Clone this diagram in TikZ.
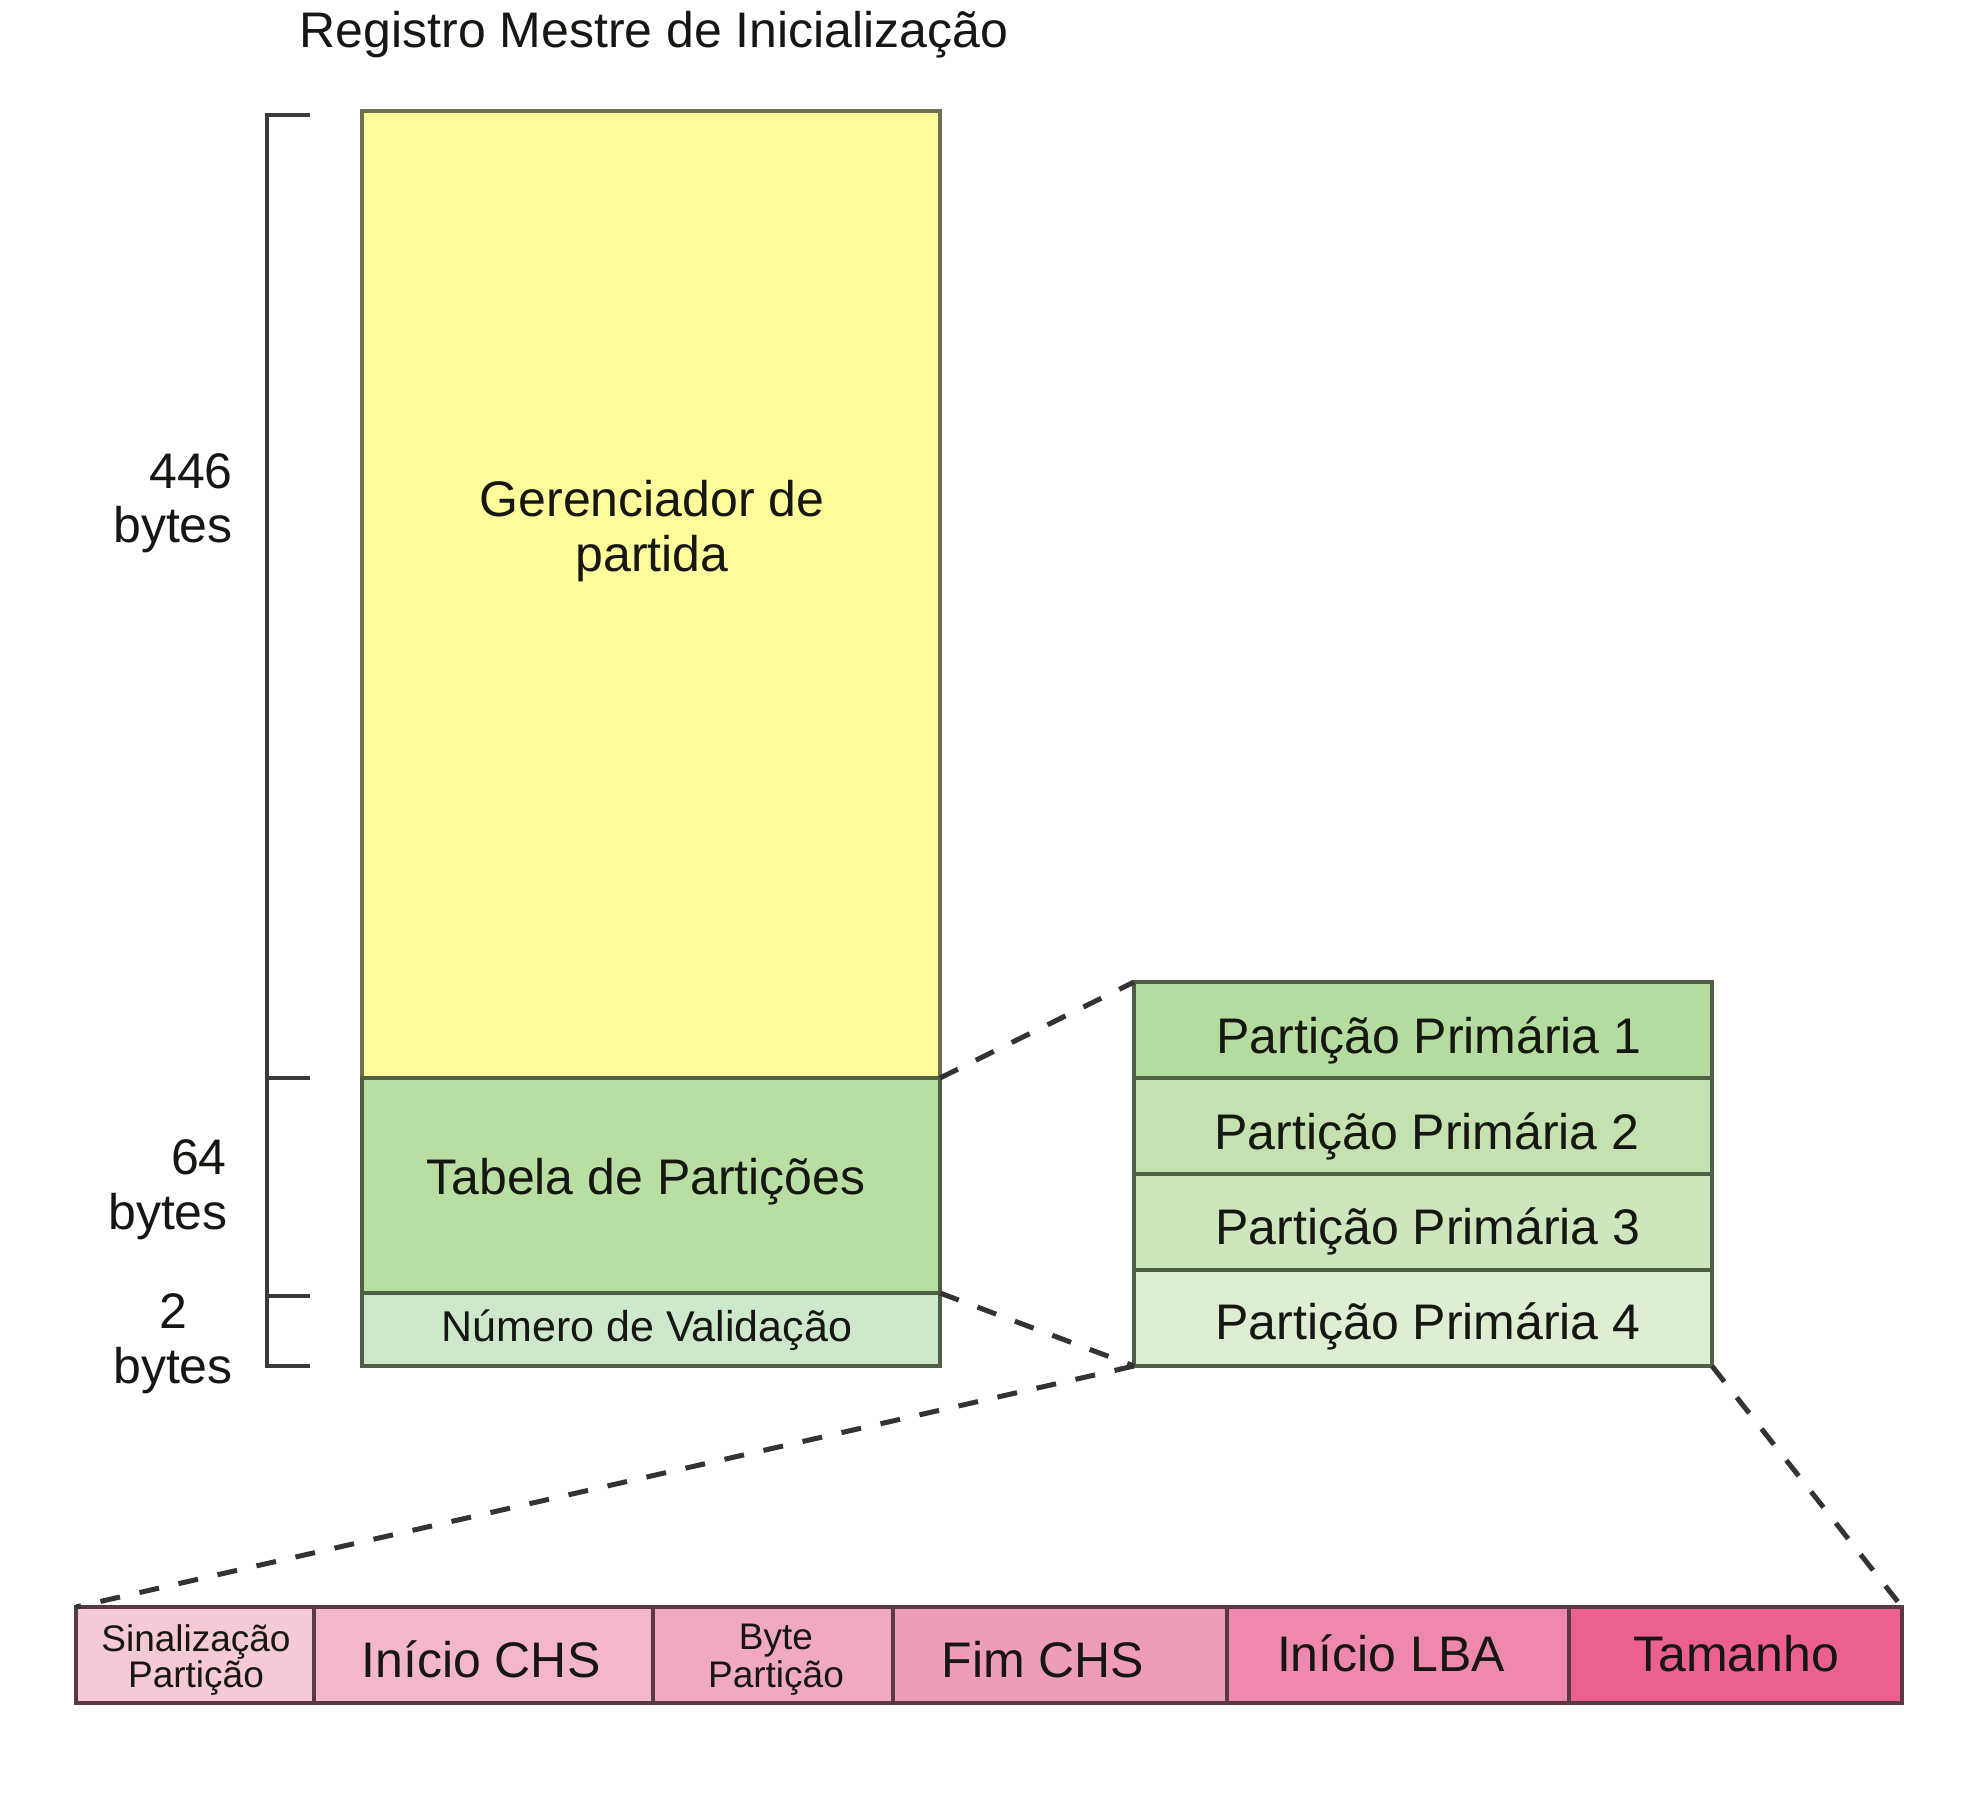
\documentclass[tikz,border=0pt]{standalone}
\usepackage{fontspec}
\setmainfont{Liberation Sans}
\definecolor{txt}{HTML}{161612}
\definecolor{yel}{HTML}{FDFB9A}
\definecolor{yelb}{HTML}{6E6E50}
\definecolor{tabc}{HTML}{B8DEA1}
\definecolor{numc}{HTML}{CEE8CC}
\definecolor{grnb}{HTML}{4F5F45}
\definecolor{pa}{HTML}{B4DC9E}
\definecolor{pb}{HTML}{C3E2AF}
\definecolor{pc}{HTML}{CEE6BD}
\definecolor{pd}{HTML}{DDEED3}
\definecolor{ka}{HTML}{F6C9D7}
\definecolor{kb}{HTML}{F4B6CB}
\definecolor{kc}{HTML}{F1A9C3}
\definecolor{kd}{HTML}{EF9BBA}
\definecolor{ke}{HTML}{EE88AE}
\definecolor{kf}{HTML}{EC6090}
\definecolor{pnkb}{HTML}{5A3A42}
\definecolor{brk}{HTML}{3A3A3A}
\tikzset{
  box/.style={rectangle, inner sep=0pt, outer sep=0pt, anchor=north west, line width=4pt},
  big/.style={font=\fontsize{50}{58}\selectfont, inner sep=0pt, anchor=base, text=txt},
  mid/.style={font=\fontsize{43}{50}\selectfont, inner sep=0pt, anchor=base, text=txt},
  small/.style={font=\fontsize{37}{42}\selectfont, inner sep=0pt, anchor=base, text=txt},
  zoomline/.style={line width=5pt, dash pattern=on 20pt off 20pt, draw=black!80},
  brace/.style={line width=3.5pt, draw=brk},
}
\begin{document}
\begin{tikzpicture}[x=1pt,y=-1pt]
\useasboundingbox[fill=white] (0,0) rectangle (1984,1804);
% title
\node[big] (title) at (654,47) {Registro Mestre de Inicialização};
% MBR column
\node[box, fill=yel, draw=yelb, minimum width=578pt, minimum height=967pt] (gp) at (362,111) {};
\node[box, fill=tabc, draw=grnb, minimum width=578pt, minimum height=215pt] (tab) at (362,1078) {};
\node[box, fill=numc, draw=grnb, minimum width=578pt, minimum height=73pt] (num) at (362,1293) {};
\node[big] (gpa) at (652,516) {Gerenciador de};
\node[big] (gpb) at (652,571) {partida};
\node[big] (tabl) at (646,1194) {Tabela de Partições};
\node[mid] (numl) at (647,1341) {Número de Validação};
% bracket
\coordinate (b0) at (310,115);
\coordinate (b1) at (310,1078);
\coordinate (b2) at (310,1296);
\coordinate (b3) at (310,1366);
\draw[brace] (b0) -- (267,115) -- (267,1366) -- (b3);
\draw[brace] (267,1078) -- (b1);
\draw[brace] (267,1296) -- (b2);
\node[big] (s1a) at (191,488) {446};
\node[big] (s1b) at (173,542) {bytes};
\node[big] (s2a) at (199,1174) {64};
\node[big] (s2b) at (168,1229) {bytes};
\node[big] (s3a) at (173,1328) {2};
\node[big] (s3b) at (173,1383) {bytes};
% partition table
\node[box, fill=pa, draw=grnb, minimum width=578pt, minimum height=96pt] (p1) at (1134,982) {};
\node[box, fill=pb, draw=grnb, minimum width=578pt, minimum height=96pt] (p2) at (1134,1078) {};
\node[box, fill=pc, draw=grnb, minimum width=578pt, minimum height=96pt] (p3) at (1134,1174) {};
\node[box, fill=pd, draw=grnb, minimum width=578pt, minimum height=96pt] (p4) at (1134,1270) {};
\node[big] (p1l) at (1429,1053) {Partição Primária 1};
\node[big] (p2l) at (1427,1149) {Partição Primária 2};
\node[big] (p3l) at (1428,1244) {Partição Primária 3};
\node[big] (p4l) at (1428,1339) {Partição Primária 4};
% entry fields
\node[box, fill=ka, draw=pnkb, minimum width=238pt, minimum height=96pt] (f1) at (76,1607) {};
\node[box, fill=kb, draw=pnkb, minimum width=339pt, minimum height=96pt] (f2) at (314,1607) {};
\node[box, fill=kc, draw=pnkb, minimum width=240pt, minimum height=96pt] (f3) at (653,1607) {};
\node[box, fill=kd, draw=pnkb, minimum width=334pt, minimum height=96pt] (f4) at (893,1607) {};
\node[box, fill=ke, draw=pnkb, minimum width=342pt, minimum height=96pt] (f5) at (1227,1607) {};
\node[box, fill=kf, draw=pnkb, minimum width=333pt, minimum height=96pt] (f6) at (1569,1607) {};
\node[small] (f1a) at (196,1651) {Sinalização};
\node[small] (f1b) at (196,1687) {Partição};
\node[big] (f2l) at (481,1677) {Início CHS};
\node[small] (f3a) at (776,1649) {Byte};
\node[small] (f3b) at (776,1687) {Partição};
\node[big] (f4l) at (1043,1677) {Fim CHS};
\node[big] (f5l) at (1391,1671) {Início LBA};
\node[big] (f6l) at (1736,1671) {Tamanho};
% zoom lines
\draw[zoomline] (tab.north east) -- (p1.north west);
\draw[zoomline] (tab.south east) -- (p4.south west);
\draw[zoomline] (p4.south west) -- (f1.north west);
\draw[zoomline] (p4.south east) -- (f6.north east);
\end{tikzpicture}
\end{document}
